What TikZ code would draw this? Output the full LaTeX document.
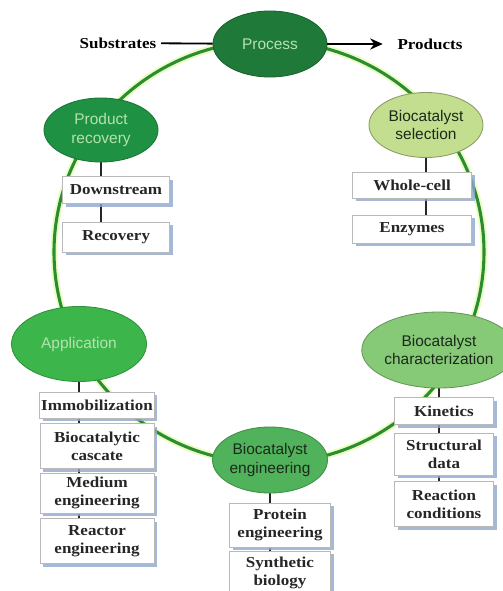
\documentclass[tikz,border=0pt]{standalone}
\usepackage{fontspec}
\setmainfont{Liberation Serif}
\newfontfamily\itemfont[FakeStretch=1.12]{Liberation Serif}
\newfontfamily\stagefont{Liberation Sans}
\usetikzlibrary{arrows.meta,shapes.geometric,shadows,backgrounds}

\definecolor{processgreen}{HTML}{1F7A3A}
\definecolor{recoverygreen}{HTML}{1E9242}
\definecolor{appgreen}{HTML}{3CB54B}
\definecolor{enggreen}{HTML}{50B25A}
\definecolor{chargreen}{HTML}{86C977}
\definecolor{selgreen}{HTML}{C2DE8E}
\definecolor{ringgreen}{HTML}{2C8C34}
\definecolor{paletext}{HTML}{B5E2B0}
\definecolor{darktext}{HTML}{1C2A1C}
\definecolor{shadowblue}{HTML}{8FA6CC}

\tikzset{
  stage/.style={ellipse, inner sep=0pt, align=center, line width=0.6pt,
    font=\stagefont\fontsize{11}{13}\selectfont},
  item/.style={rectangle, draw=gray!55, fill=white, line width=0.5pt,
    inner sep=1pt, align=center, text=black!85,
    font=\itemfont\bfseries\fontsize{10.8}{13}\selectfont,
    drop shadow={shadow xshift=2.2pt, shadow yshift=-2.2pt, fill=shadowblue, opacity=0.8}},
  label/.style={font=\itemfont\bfseries\fontsize{10.8}{13}\selectfont},
  link/.style={line width=1.4pt, black!85},
  ringglow/.style={line width=5pt, green!35!yellow!25},
  ring/.style={line width=2.2pt, ringgreen}
}

\begin{document}
\begin{tikzpicture}[x=0.025cm,y=-0.025cm]
\useasboundingbox (0,0) rectangle (503,591);

% stages
\node[stage, fill=processgreen, draw=processgreen!80!black, text=paletext,
  minimum width=2.85cm, minimum height=1.65cm] (process) at (270,44) {Process};
\node[stage, fill=recoverygreen, draw=recoverygreen!80!black, text=paletext,
  minimum width=2.85cm, minimum height=1.6cm] (recovery) at (101,130) {Product\\recovery};
\node[stage, fill=selgreen, draw=selgreen!70!black, text=darktext,
  minimum width=2.85cm, minimum height=1.625cm] (selection) at (426,125) {Biocatalyst\\selection};
\node[stage, fill=appgreen, draw=appgreen!80!black, text=paletext,
  minimum width=3.375cm, minimum height=1.875cm] (application) at (79,344) {Application};
\node[stage, fill=chargreen, draw=chargreen!75!black, text=darktext,
  minimum width=3.05cm, minimum height=1.9cm] (character) at (439,350) {Biocatalyst\\characterization};
\node[stage, fill=enggreen, draw=enggreen!80!black, text=darktext,
  minimum width=2.875cm, minimum height=1.65cm] (engineering) at (270,460) {Biocatalyst\\engineering};

% input and output
\node[label] (substrates) at (118,43) {Substrates};
\node[label] (products) at (430,44) {Products};
\draw[line width=1.3pt] (substrates) -- (process);
\draw[line width=1.3pt, -{Stealth[length=9pt,width=8pt]}, shorten >=7pt] (process) -- (products);

% product recovery
\node[item, minimum width=2.675cm, minimum height=0.675cm] (downstream) at (116,190) {Downstream};
\node[item, minimum width=2.675cm, minimum height=0.75cm] (recov) at (116,237) {Recovery};

% biocatalyst selection
\node[item, minimum width=2.975cm, minimum height=0.65cm] (wholecell) at (412,185) {Whole-cell};
\node[item, minimum width=2.975cm, minimum height=0.7cm] (enzymes) at (412,229) {Enzymes};

% application
\node[item, minimum width=2.85cm, minimum height=0.65cm] (immob) at (97,405) {Immobilization};
\node[item, minimum width=2.85cm, minimum height=1.125cm] (cascate) at (97,446) {Biocatalytic\\cascate};
\node[item, minimum width=2.85cm, minimum height=1.0cm] (medium) at (97,493) {Medium\\engineering};
\node[item, minimum width=2.85cm, minimum height=1.125cm] (reactor) at (97,541) {Reactor\\engineering};

% characterization
\node[item, minimum width=2.475cm, minimum height=0.675cm] (kinetics) at (444,411) {Kinetics};
\node[item, minimum width=2.475cm, minimum height=1.05cm] (structural) at (444,454) {Structural\\data};
\node[item, minimum width=2.475cm, minimum height=1.125cm] (conditions) at (444,504) {Reaction\\conditions};

% engineering
\node[item, minimum width=2.525cm, minimum height=1.1cm] (protein) at (280,525) {Protein\\engineering};
\node[item, minimum width=2.525cm, minimum height=1.1cm] (synthetic) at (280,573) {Synthetic\\biology};

\begin{scope}[on background layer]
  \coordinate (centre) at (269,252);
  \draw[ringglow] (centre) ellipse [x radius=215, y radius=211];
  \draw[ring] (centre) ellipse [x radius=215, y radius=211];
  \draw[link] (recovery.south) -- (recovery.south |- recov.north);
  \draw[link] (selection.south) -- (selection.south |- enzymes.north);
  \draw[link] (application.south) -- (application.south |- reactor.north);
  \draw[link] (character.south) -- (character.south |- conditions.north);
  \draw[link] (engineering.south) -- (engineering.south |- synthetic.north);
\end{scope}
\end{tikzpicture}
\end{document}
